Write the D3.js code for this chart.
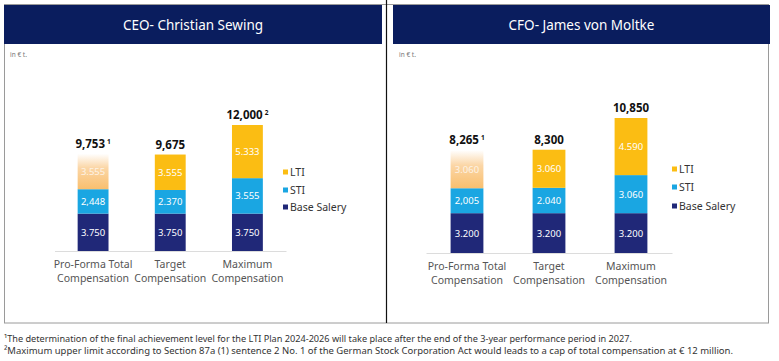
<!DOCTYPE html>
<html>
<head>
<meta charset="utf-8">
<script src="https://cdn.jsdelivr.net/npm/d3@7"></script>
<style>
  body { margin: 0; background: #fff; }
  svg { display: block; font-family: "Noto Sans", "Open Sans", sans-serif; }
</style>
</head>
<body>
<svg width="779" height="361"></svg>
<script>
var categories = ["Pro-Forma Total|Compensation", "Target|Compensation", "Maximum|Compensation"];
var seriesNames = ["Base Salery", "STI", "LTI"];

var ceoBase = [3750, 3750, 3750];
var ceoSti = [2448, 2370, 3555];
var ceoLti = [3555, 3555, 5333];
var ceoBaseLabels = ["3.750", "3.750", "3.750"];
var ceoStiLabels = ["2,448", "2.370", "3.555"];
var ceoLtiLabels = ["3.555", "3.555", "5.333"];
var ceoTotals = ["9,753", "9,675", "12,000"];
var ceoNotes = ["1", "", "2"];

var cfoBase = [3200, 3200, 3200];
var cfoSti = [2005, 2040, 3060];
var cfoLti = [3060, 3060, 4590];
var cfoBaseLabels = ["3.200", "3.200", "3.200"];
var cfoStiLabels = ["2,005", "2.040", "3.060"];
var cfoLtiLabels = ["3.060", "3.060", "4.590"];
var cfoTotals = ["8,265", "8,300", "10,850"];
var cfoNotes = ["1", "", ""];

var footnotes = [
  "\u00b9The determination of the final achievement level for the LTI Plan 2024-2026 will take place after the end of the 3-year performance period in 2027.",
  "\u00b2Maximum upper limit according to Section 87a (1) sentence 2 No. 1 of the German Stock Corporation Act would leads to a cap of total compensation at \u20ac 12 million."
];

var colors = { "Base Salery": "#202878", "STI": "#1aa6e2", "LTI": "#fbbd13" };

var svg = d3.select("svg");

// gradient for the pro-forma LTI block
var grad = svg.append("defs").append("linearGradient")
    .attr("id", "fade").attr("x1", 0).attr("y1", 1).attr("x2", 0).attr("y2", 0);
grad.append("stop").attr("offset", "0%").attr("stop-color", "#f9bf6e");
grad.append("stop").attr("offset", "60%").attr("stop-color", "#fbd6a6");
grad.append("stop").attr("offset", "100%").attr("stop-color", "#ffffff");

// frame
svg.append("rect").attr("x", 4.5).attr("y", 4.5).attr("width", 764).attr("height", 318.5)
    .attr("fill", "none").attr("stroke", "#9a9a9a").attr("stroke-width", 1);
svg.append("line").attr("x1", 386.5).attr("x2", 386.5).attr("y1", 0).attr("y2", 323)
    .attr("stroke", "#111").attr("stroke-width", 1.2);

function drawPanel(p) {
  var g = svg.append("g");

  g.append("rect").attr("x", p.hx).attr("y", 5).attr("width", p.hw).attr("height", 39)
      .attr("fill", "#0a1d5e");
  g.append("text").attr("x", p.hx + p.hw / 2).attr("y", 29.5)
      .attr("text-anchor", "middle").attr("fill", "#fff").attr("font-size", 13.5)
      .text(p.title);
  g.append("text").attr("x", p.hx + 6).attr("y", 57).attr("fill", "#777")
      .attr("font-size", 6.5).text("in \u20ac t.");

  var rows = categories.map(function(c, i) {
    return { cat: c, "Base Salery": p.base[i], "STI": p.sti[i], "LTI": p.lti[i] };
  });
  var stacked = d3.stack().keys(seriesNames)(rows);
  var labels = { "Base Salery": p.baseLabels, "STI": p.stiLabels, "LTI": p.ltiLabels };

  var x = d3.scaleBand().domain(categories).range(p.xr).paddingInner(0.6).paddingOuter(0.3);
  var y = d3.scaleLinear()
      .domain([0, d3.max(stacked[stacked.length - 1], function(d) { return d[1]; })])
      .range(p.yr);

  stacked.forEach(function(layer) {
    var key = layer.key;
    var lg = g.append("g");
    lg.selectAll("rect").data(layer).enter().append("rect")
        .attr("x", function(d) { return x(d.data.cat); })
        .attr("width", x.bandwidth())
        .attr("y", function(d) { return y(d[1]); })
        .attr("height", function(d) { return y(d[0]) - y(d[1]); })
        .attr("fill", function(d, i) { return key === "LTI" && i === 0 ? "url(#fade)" : colors[key]; });
    lg.selectAll("text").data(layer).enter().append("text")
        .attr("x", function(d) { return x(d.data.cat) + x.bandwidth() / 2; })
        .attr("y", function(d) { return (y(d[0]) + y(d[1])) / 2 + 3.5; })
        .attr("text-anchor", "middle").attr("font-size", 9.5)
        .attr("fill", function(d, i) { return key === "LTI" && i === 0 ? "#fdf3e6" : "#fff"; })
        .text(function(d, i) { return labels[key][i]; });
  });

  // totals
  var top = stacked[stacked.length - 1];
  var tt = g.selectAll(".total").data(top).enter().append("text")
      .attr("x", function(d) { return x(d.data.cat) + x.bandwidth() / 2; })
      .attr("y", function(d) { return y(d[1]) - 6; })
      .attr("text-anchor", "middle").attr("font-size", 11.5).attr("font-weight", "bold")
      .attr("fill", "#111");
  tt.append("tspan").text(function(d, i) { return p.totals[i]; });
  tt.append("tspan").attr("dy", -4).attr("dx", 2).attr("font-size", 6.5)
      .text(function(d, i) { return p.notes[i]; });

  // axis
  var ax = g.append("g").attr("transform", "translate(0," + p.yr[0] + ")")
      .call(d3.axisBottom(x).tickSize(0).tickFormat(""));
  ax.select(".domain").attr("stroke", "#dcdcdc");
  categories.forEach(function(c) {
    var parts = c.split("|");
    var t = g.append("text").attr("text-anchor", "middle").attr("font-size", 10.5)
        .attr("fill", "#555");
    parts.forEach(function(s, j) {
      t.append("tspan").attr("x", x(c) + x.bandwidth() / 2)
          .attr("y", p.yr[0] + 17 + j * 14).text(s);
    });
  });

  // legend
  var leg = g.selectAll(".leg").data(seriesNames.slice().reverse()).enter().append("g")
      .attr("transform", function(d, i) { return "translate(" + p.legX + "," + p.legY[i] + ")"; });
  leg.append("rect").attr("x", 0).attr("y", -2.5).attr("width", 5).attr("height", 5)
      .attr("fill", function(d) { return colors[d]; });
  leg.append("text").attr("x", 7).attr("y", 4).attr("font-size", 10.5).attr("fill", "#333")
      .text(function(d) { return d; });
}

drawPanel({
  title: "CEO- Christian Sewing", hx: 4, hw: 378,
  xr: [54.5, 286], yr: [251, 125],
  base: ceoBase, sti: ceoSti, lti: ceoLti,
  baseLabels: ceoBaseLabels, stiLabels: ceoStiLabels, ltiLabels: ceoLtiLabels,
  totals: ceoTotals, notes: ceoNotes,
  legX: 283, legY: [172, 190, 207]
});

drawPanel({
  title: "CFO- James von Moltke", hx: 393, hw: 377,
  xr: [426, 672], yr: [253, 118],
  base: cfoBase, sti: cfoSti, lti: cfoLti,
  baseLabels: cfoBaseLabels, stiLabels: cfoStiLabels, ltiLabels: cfoLtiLabels,
  totals: cfoTotals, notes: cfoNotes,
  legX: 672, legY: [169, 187, 206]
});

svg.selectAll(".fn").data(footnotes).enter().append("text")
    .attr("x", 4).attr("y", function(d, i) { return 342 + i * 12; })
    .attr("font-size", 9.5).attr("fill", "#333")
    .attr("textLength", function(d, i) { return i === 0 ? 628 : 729; })
    .attr("lengthAdjust", "spacingAndGlyphs")
    .text(function(d) { return d; });
</script>
</body>
</html>
